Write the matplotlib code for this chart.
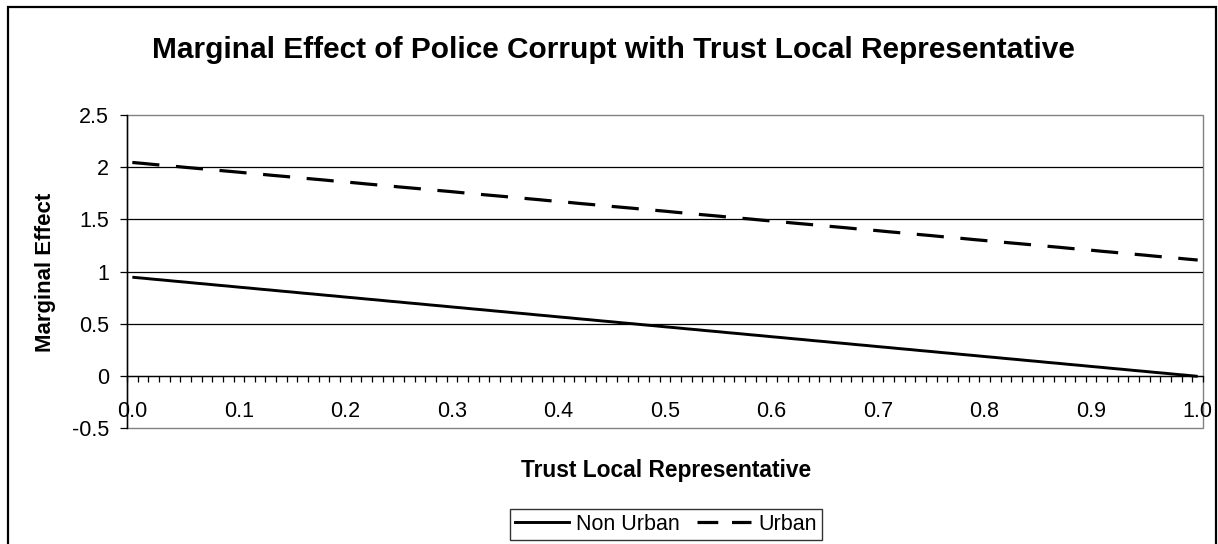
import numpy as np
import matplotlib
matplotlib.use('Agg')
import matplotlib.pyplot as plt
from matplotlib.lines import Line2D
from matplotlib.patches import Rectangle

plt.rcParams['font.family'] = ['Liberation Sans', 'DejaVu Sans']

# trust level categories 0.00 ... 1.00
trust = np.round(np.arange(101) / 100, 2)
tick_labels = ['0.0', '0.1', '0.2', '0.3', '0.4', '0.5', '0.6', '0.7', '0.8', '0.9', '1.0']
y_ticks = [-0.5, 0, 0.5, 1, 1.5, 2, 2.5]
y_tick_labels = ['-0.5', '0', '0.5', '1', '1.5', '2', '2.5']

non_urban = [0.945, 0.936, 0.926, 0.917, 0.907, 0.898, 0.888, 0.879, 0.869, 0.860,
             0.850, 0.841, 0.831, 0.822, 0.812, 0.803, 0.793, 0.784, 0.774, 0.765,
             0.755, 0.746, 0.736, 0.727, 0.717, 0.708, 0.698, 0.689, 0.679, 0.670,
             0.660, 0.651, 0.641, 0.632, 0.622, 0.613, 0.603, 0.594, 0.584, 0.575,
             0.565, 0.556, 0.546, 0.537, 0.527, 0.518, 0.508, 0.499, 0.489, 0.480,
             0.470, 0.461, 0.451, 0.442, 0.432, 0.423, 0.413, 0.404, 0.394, 0.385,
             0.375, 0.366, 0.356, 0.347, 0.337, 0.328, 0.318, 0.309, 0.299, 0.290,
             0.280, 0.271, 0.261, 0.252, 0.242, 0.233, 0.223, 0.214, 0.204, 0.195,
             0.185, 0.176, 0.166, 0.157, 0.147, 0.138, 0.128, 0.119, 0.109, 0.100,
             0.090, 0.081, 0.071, 0.062, 0.052, 0.043, 0.033, 0.024, 0.014, 0.005,
             -0.005]
urban = [2.045, 2.036, 2.026, 2.017, 2.008, 1.998, 1.989, 1.980, 1.970, 1.961,
         1.952, 1.942, 1.933, 1.923, 1.914, 1.905, 1.895, 1.886, 1.877, 1.867,
         1.858, 1.849, 1.839, 1.830, 1.821, 1.811, 1.802, 1.793, 1.783, 1.774,
         1.765, 1.755, 1.746, 1.736, 1.727, 1.718, 1.708, 1.699, 1.690, 1.680,
         1.671, 1.662, 1.652, 1.643, 1.634, 1.624, 1.615, 1.606, 1.596, 1.587,
         1.578, 1.568, 1.559, 1.549, 1.540, 1.531, 1.521, 1.512, 1.503, 1.493,
         1.484, 1.475, 1.465, 1.456, 1.447, 1.437, 1.428, 1.419, 1.409, 1.400,
         1.391, 1.381, 1.372, 1.362, 1.353, 1.344, 1.334, 1.325, 1.316, 1.306,
         1.297, 1.288, 1.278, 1.269, 1.260, 1.250, 1.241, 1.232, 1.222, 1.213,
         1.204, 1.194, 1.185, 1.175, 1.166, 1.157, 1.147, 1.138, 1.129, 1.119,
         1.110]

W, H = 1218, 544
fig = plt.figure(figsize=(W / 100, H / 100), dpi=100)
ax = fig.add_axes([127 / W, 1 - 428 / H, (1203 - 127) / W, (428 - 115) / H])

x = np.arange(len(trust))
ax.plot(x, non_urban, color='black', lw=2.1, solid_capstyle='butt')
ax.plot(x, urban, color='black', lw=2.3, linestyle=(0, (8.5, 5.2)), dash_capstyle='butt')

ax.set_xlim(-0.5, len(trust) - 0.5)
ax.set_ylim(-0.5, 2.5)

# horizontal gridlines
for yv in y_ticks[1:-1]:
    ax.axhline(yv, color='black', lw=0.9, zorder=0.5)

ax.set_yticks(y_ticks)
ax.set_yticklabels(y_tick_labels)
ax.tick_params(axis='y', direction='out', length=5, width=0.9, pad=8, labelsize=15.5)

ax.set_xticks(x[::10])
ax.set_xticklabels(tick_labels)
ax.set_xticks(np.arange(-0.5, len(trust), 1), minor=True)
ax.tick_params(axis='x', which='major', length=0, pad=18, labelsize=15.5)
ax.tick_params(axis='x', which='minor', direction='out', length=4, width=0.9)

ax.spines['bottom'].set_position(('data', 0))
ax.spines['bottom'].set_linewidth(0.9)
ax.spines['left'].set_linewidth(0.9)
ax.spines['top'].set_visible(False)
ax.spines['right'].set_visible(False)

# grey plot area border
ax.add_patch(Rectangle((0, 0), 1, 1, transform=ax.transAxes, fill=False,
                       edgecolor='#808080', lw=1.0, zorder=0.4, clip_on=False))
ax.plot([0, 0], [0, 1], transform=ax.transAxes, color='black', lw=0.9, clip_on=False)

fig.text(613 / W, 1 - 58 / H, 'Marginal Effect of Police Corrupt with Trust Local Representative',
         ha='center', va='baseline', fontsize=21.5, fontweight='bold')
fig.text(666 / W, 1 - 477 / H, 'Trust Local Representative',
         ha='center', va='baseline', fontsize=16.4, fontweight='bold')
fig.text(45 / W, 1 - 272 / H, 'Marginal Effect', rotation=90,
         ha='center', va='center', fontsize=16, fontweight='bold')

handles = [Line2D([], [], color='black', lw=2.1),
           Line2D([], [], color='black', lw=2.3, linestyle=(0, (6.5, 4.3)))]
leg = fig.legend(handles, ['Non Urban', 'Urban'], loc='center', ncol=2,
                 bbox_to_anchor=(666 / W, 1 - 524.5 / H), fontsize=15.5,
                 frameon=True, fancybox=False, handlelength=2.5, handletextpad=0.35,
                 columnspacing=0.8, borderpad=0.25, borderaxespad=0)
leg.get_frame().set_edgecolor('black')
leg.get_frame().set_linewidth(1.0)

# outer chart frame
fig.patches.append(Rectangle((8 / W, -0.1), (1216 - 8) / W, 1.1 - 7 / H,
                             transform=fig.transFigure, fill=False,
                             edgecolor='black', lw=1.6, clip_on=False))

fig.savefig('out.png', dpi=100)
